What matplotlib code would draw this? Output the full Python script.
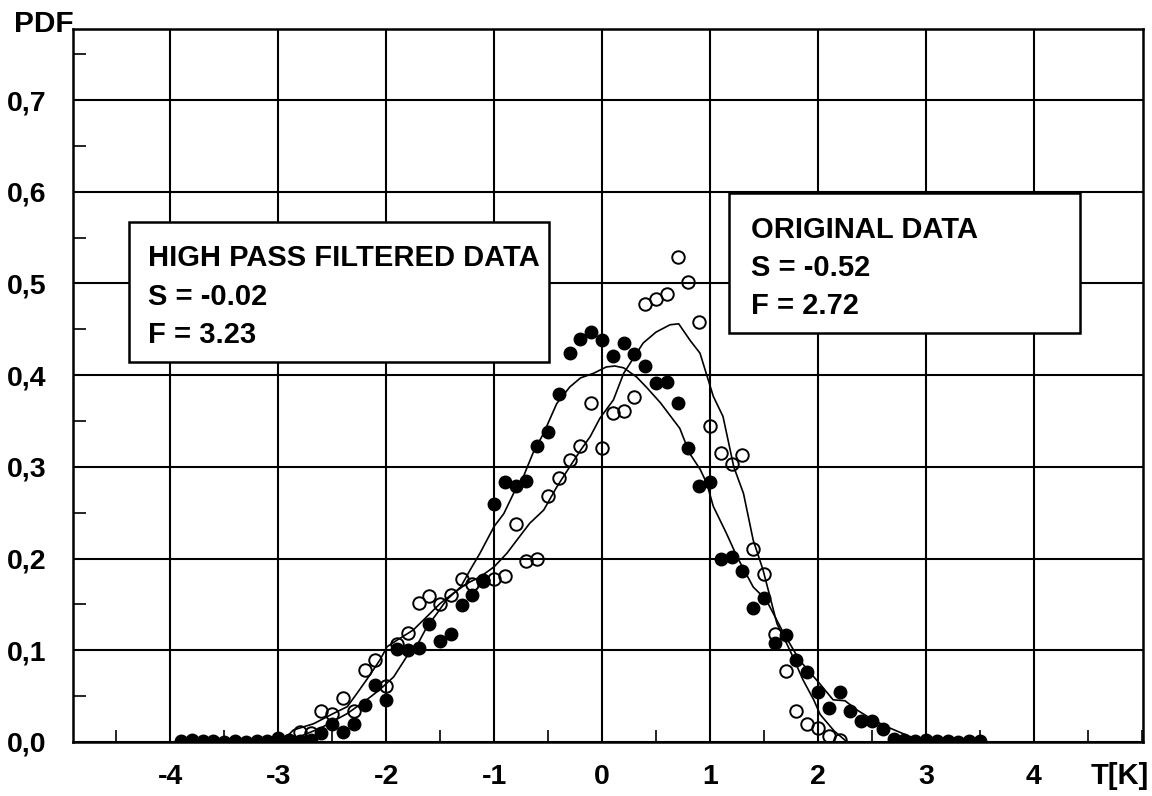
import matplotlib
matplotlib.use("Agg")
import matplotlib.pyplot as plt
from matplotlib.patches import Rectangle
from matplotlib.ticker import MultipleLocator

plt.rcParams['font.family'] = ['Liberation Sans', 'DejaVu Sans']
plt.rcParams['font.weight'] = 'bold'

# ---- data -------------------------------------------------------------
# high pass filtered data (filled circles)
filt_T = [-3.9, -3.8, -3.7, -3.6, -3.5, -3.4, -3.3, -3.2, -3.1, -3.0, -2.9, -2.8, -2.7,
          -2.6, -2.5, -2.4, -2.3, -2.2, -2.1, -2.0, -1.9, -1.8, -1.7, -1.6, -1.5,
          -1.4, -1.3, -1.2, -1.1, -1.0, -0.9, -0.8, -0.7, -0.6, -0.5, -0.4, -0.3,
          -0.2, -0.1, 0.0, 0.1, 0.2, 0.3, 0.4, 0.5, 0.6, 0.7, 0.8, 0.9, 1.0, 1.1,
          1.2, 1.3, 1.4, 1.5, 1.6, 1.7, 1.8, 1.9, 2.0, 2.1, 2.2, 2.3, 2.4, 2.5,
          2.6, 2.7, 2.8, 2.9, 3.0, 3.1, 3.2, 3.3, 3.4, 3.5]
filt_P = [0.001, 0.002, 0.001, 0.001, 0.000, 0.001, 0.000, 0.001, 0.001, 0.004, 0.002, 0.001, 0.002,
          0.010, 0.020, 0.011, 0.020, 0.040, 0.062, 0.046, 0.101, 0.100, 0.103, 0.129, 0.110,
          0.118, 0.149, 0.160, 0.177, 0.259, 0.283, 0.279, 0.285, 0.323, 0.338, 0.379, 0.424,
          0.439, 0.447, 0.438, 0.421, 0.435, 0.423, 0.410, 0.392, 0.393, 0.370, 0.321, 0.279, 0.284, 0.200,
          0.202, 0.187, 0.146, 0.157, 0.108, 0.117, 0.089, 0.076, 0.054, 0.037, 0.054, 0.034, 0.023, 0.023,
          0.014, 0.003, 0.002, 0.001, 0.002, 0.001, 0.001, 0.000, 0.001, 0.001]

# original data (open circles)
orig_T = [-2.8, -2.7, -2.6, -2.5, -2.4, -2.3, -2.2, -2.1, -2.0, -1.9, -1.8, -1.7,
          -1.6, -1.5, -1.4, -1.3, -1.2, -1.1, -1.0, -0.9, -0.8, -0.7, -0.6, -0.5,
          -0.4, -0.3, -0.2, -0.1, 0.0, 0.1, 0.2, 0.3, 0.4, 0.5, 0.6, 0.7, 0.8, 0.9,
          1.0, 1.1, 1.2, 1.3, 1.4, 1.5, 1.6, 1.7, 1.8, 1.9, 2.0, 2.1, 2.2]
orig_P = [0.011, 0.010, 0.034, 0.030, 0.048, 0.034, 0.078, 0.089, 0.061, 0.107, 0.119, 0.152,
          0.159, 0.151, 0.160, 0.178, 0.172, 0.176, 0.178, 0.181, 0.238, 0.197, 0.200, 0.268,
          0.288, 0.308, 0.323, 0.370, 0.321, 0.359, 0.361, 0.376, 0.478, 0.483, 0.489, 0.529, 0.502, 0.458,
          0.345, 0.315, 0.303, 0.313, 0.210, 0.183, 0.118, 0.077, 0.034, 0.020, 0.015, 0.007, 0.002]

# fitted curve through the filtered data
fitF_T = [-2.90, -2.80, -2.61, -2.36, -2.18, -2.06, -1.93, -1.87, -1.81, -1.72, -1.62, -1.53,
          -1.44, -1.31, -1.22, -1.13, -1.00, -0.91, -0.82, -0.73, -0.64, -0.54, -0.42, -0.30,
          -0.20, -0.08, 0.04, 0.12, 0.20, 0.32, 0.41, 0.54, 0.72, 0.81, 0.91, 0.97, 1.03, 1.15,
          1.25, 1.40, 1.52, 1.68, 1.83, 2.02, 2.14, 2.25, 2.36, 2.51, 2.67, 2.85, 3.00, 3.10]
fitF_P = [0.000, 0.006, 0.015, 0.031, 0.046, 0.057, 0.071, 0.082, 0.093, 0.104, 0.126, 0.140,
          0.155, 0.169, 0.188, 0.206, 0.235, 0.249, 0.271, 0.289, 0.315, 0.337, 0.369, 0.387,
          0.397, 0.402, 0.409, 0.410, 0.408, 0.398, 0.387, 0.370, 0.342, 0.315, 0.297, 0.282, 0.257, 0.228,
          0.202, 0.169, 0.155, 0.119, 0.089, 0.063, 0.046, 0.045, 0.035, 0.024, 0.015, 0.006, 0.001, 0.000]

# fitted curve through the original data
fitO_T = [-2.95, -2.86, -2.67, -2.49, -2.36, -2.27, -2.18, -2.06, -1.99, -1.90, -1.75, -1.62,
          -1.50, -1.38, -1.25, -1.13, -1.00, -0.88, -0.79, -0.67, -0.54, -0.42, -0.30, -0.20,
          -0.11, -0.02, 0.105, 0.20, 0.38, 0.50, 0.63, 0.71, 0.815, 0.907, 1.03, 1.12, 1.22,
          1.31, 1.40, 1.49, 1.62, 1.74, 1.86, 1.96, 2.02, 2.15, 2.27]
fitO_P = [0.002, 0.013, 0.020, 0.031, 0.0385, 0.053, 0.068, 0.089, 0.104, 0.111, 0.122, 0.137,
          0.151, 0.162, 0.173, 0.180, 0.191, 0.206, 0.220, 0.2385, 0.253, 0.278, 0.300, 0.318,
          0.333, 0.353, 0.373, 0.402, 0.435, 0.447, 0.455, 0.456, 0.438, 0.424, 0.377, 0.355, 0.300,
          0.271, 0.220, 0.188, 0.129, 0.100, 0.068, 0.046, 0.030, 0.012, 0.000]

x_ticks = [-4, -3, -2, -1, 0, 1, 2, 3, 4]
x_labels = ['-4', '-3', '-2', '-1', '0', '1', '2', '3', '4']
y_ticks = [0.0, 0.1, 0.2, 0.3, 0.4, 0.5, 0.6, 0.7]
y_labels = ['0,0', '0,1', '0,2', '0,3', '0,4', '0,5', '0,6', '0,7']

filt_text = ['HIGH PASS FILTERED DATA', 'S = -0.02', 'F = 3.23']
orig_text = ['ORIGINAL DATA', 'S = -0.52', 'F = 2.72']

# ---- figure -----------------------------------------------------------
W, H = 1152, 796
fig = plt.figure(figsize=(W / 100, H / 100), dpi=100)
ax_l, ax_r, ax_t, ax_b = 73, 1143, 29, 742
ax = fig.add_axes([ax_l / W, 1 - ax_b / H, (ax_r - ax_l) / W, (ax_b - ax_t) / H])

ax.set_xlim(-4.90, 5.01)
ax.set_ylim(0.0, 0.7775)

ax.set_xticks(x_ticks)
ax.set_xticklabels(x_labels)
ax.set_yticks(y_ticks)
ax.set_yticklabels(y_labels)
ax.xaxis.set_minor_locator(MultipleLocator(0.5))
ax.yaxis.set_minor_locator(MultipleLocator(0.05))
ax.tick_params(which='major', length=0, labelsize=20.5, pad=16)
ax.tick_params(axis='y', which='major', pad=19)
ax.tick_params(which='minor', direction='in', length=9, width=1.2, color='black')
for lab in ax.get_xticklabels() + ax.get_yticklabels():
    lab.set_fontweight('bold')

ax.grid(True, which='major', color='black', linewidth=1.5)
ax.set_axisbelow(True)
for s in ax.spines.values():
    s.set_linewidth(1.8)
    s.set_color('black')

ax.plot(fitF_T, fitF_P, color='black', linewidth=1.2, zorder=3)
ax.plot(fitO_T, fitO_P, color='black', linewidth=1.2, zorder=3)
ax.plot(orig_T, orig_P, 'o', markersize=9, markerfacecolor='none',
        markeredgecolor='black', markeredgewidth=1.4, zorder=4)
ax.plot(filt_T, filt_P, 'o', markersize=9, markerfacecolor='black',
        markeredgecolor='black', zorder=5)


def text_box(x0, x1, y_top, y_bot, tx, baselines, lines):
    ax.add_patch(Rectangle(((x0 - ax_l) / (ax_r - ax_l), (ax_b - y_bot) / (ax_b - ax_t)),
                           (x1 - x0) / (ax_r - ax_l), (y_bot - y_top) / (ax_b - ax_t),
                           transform=ax.transAxes, facecolor='white', edgecolor='black',
                           linewidth=1.8, zorder=6, clip_on=False))
    for yb, s in zip(baselines, lines):
        ax.text((tx - ax_l) / (ax_r - ax_l), (ax_b - yb) / (ax_b - ax_t), s,
                transform=ax.transAxes, fontsize=21, fontweight='bold',
                ha='left', va='baseline', zorder=7)


text_box(129, 549, 222, 362, 148, [266, 305, 343], filt_text)
text_box(729, 1080, 193, 333, 751, [238, 276, 314], orig_text)

fig.text(14 / W, 1 - 32 / H, 'PDF', fontsize=21.5, fontweight='bold',
         ha='left', va='baseline')
fig.text(1120 / W, 1 - 776 / H, 'T[K]', fontsize=21, fontweight='bold',
         ha='center', va='center')

fig.savefig('out.png', dpi=100, facecolor='white')
